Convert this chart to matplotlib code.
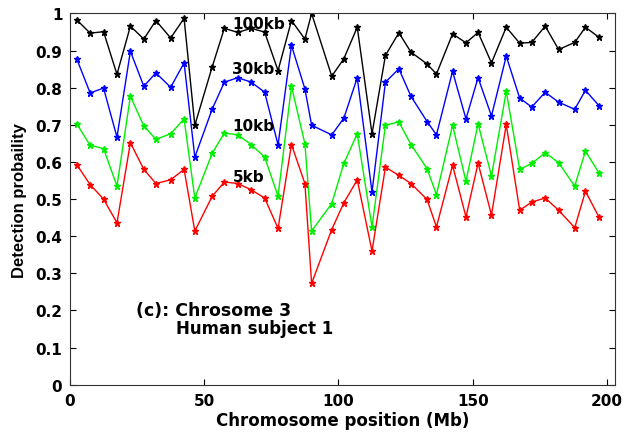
import matplotlib.pyplot as plt
import numpy as np

# chromosome positions (Mb) of the sampled windows
pos = [2.5, 7.5, 12.5, 17.5, 22.5, 27.5, 32, 37.5, 42.5, 46.5,
       53, 57.5, 62.5, 67.5, 72.5, 77.5, 82.5, 87.5, 90, 97.5, 102,
       107, 112.5, 117.5, 122.5, 127, 133, 136.5, 142.5, 147.5, 152,
       157, 162.5, 167.5, 172, 177, 182, 188, 192, 197]

# detection probability per segment size
p100kb = [0.983, 0.947, 0.951, 0.836, 0.966, 0.931, 0.981, 0.934, 0.987, 0.699,
          0.857, 0.960, 0.949, 0.960, 0.950, 0.846, 0.981, 0.931, 1.000, 0.831, 0.878,
          0.963, 0.676, 0.887, 0.948, 0.896, 0.864, 0.837, 0.945, 0.921, 0.949,
          0.867, 0.963, 0.920, 0.922, 0.966, 0.903, 0.922, 0.963, 0.936]
p30kb = [0.878, 0.786, 0.799, 0.667, 0.898, 0.804, 0.840, 0.801, 0.867, 0.613,
         0.743, 0.815, 0.827, 0.815, 0.788, 0.646, 0.914, 0.797, 0.699, 0.673, 0.718,
         0.827, 0.519, 0.815, 0.851, 0.777, 0.709, 0.673, 0.844, 0.716, 0.827,
         0.724, 0.885, 0.772, 0.748, 0.788, 0.761, 0.742, 0.793, 0.752]
p10kb = [0.703, 0.645, 0.636, 0.535, 0.777, 0.697, 0.661, 0.676, 0.716, 0.503,
         0.624, 0.678, 0.673, 0.647, 0.613, 0.508, 0.804, 0.649, 0.414, 0.488, 0.596,
         0.676, 0.425, 0.699, 0.708, 0.647, 0.582, 0.512, 0.699, 0.548, 0.703,
         0.562, 0.790, 0.580, 0.596, 0.625, 0.598, 0.535, 0.629, 0.571]
p5kb = [0.593, 0.539, 0.500, 0.436, 0.652, 0.580, 0.542, 0.552, 0.580, 0.414,
        0.508, 0.546, 0.542, 0.525, 0.503, 0.421, 0.647, 0.542, 0.273, 0.418, 0.490,
        0.552, 0.360, 0.586, 0.564, 0.542, 0.499, 0.425, 0.591, 0.452, 0.597,
        0.457, 0.701, 0.470, 0.492, 0.503, 0.470, 0.423, 0.521, 0.452]

series = [("100kb", p100kb, "k"), ("30kb", p30kb, "#0000ff"),
          ("10kb", p10kb, "#00ee00"), ("5kb", p5kb, "#ff0000")]
# where the in-plot size labels sit (data coords)
label_y = {"100kb": 0.974, "30kb": 0.851, "10kb": 0.698, "5kb": 0.561}

plt.rcParams["font.family"] = ["DejaVu Sans"]
plt.rcParams["font.weight"] = "bold"

fig = plt.figure(figsize=(6.26, 4.35), dpi=100)
ax = fig.add_axes([0.1118, 0.1133, 0.8706, 0.8534])

for name, vals, col in series:
    ax.plot(pos, vals, color=col, lw=1.0, marker="*", ms=4.5, mec=col, mfc=col)
    ax.text(60.5, label_y[name], name, fontsize=11, fontweight="bold",
            va="center", ha="left", color="k")

ax.text(24.5, 0.201, "(c): Chrosome 3", fontsize=12.5, fontweight="bold", va="center")
ax.text(39.4, 0.154, "Human subject 1", fontsize=12, fontweight="bold", va="center")

ax.set_xlim(0, 203)
ax.set_ylim(0, 1)
ax.set_xticks([0, 50, 100, 150, 200])
ax.set_yticks(np.arange(0, 1.01, 0.1))
ax.set_yticklabels(["0", "0.1", "0.2", "0.3", "0.4", "0.5", "0.6", "0.7", "0.8", "0.9", "1"])
ax.tick_params(direction="in", top=True, right=True, length=4, width=0.8,
               labelsize=11)
ax.tick_params(axis="x", pad=6)
ax.tick_params(axis="y", pad=5.5)
for lab in ax.get_xticklabels() + ax.get_yticklabels():
    lab.set_fontweight("bold")
for sp in ax.spines.values():
    sp.set_linewidth(0.8)
    sp.set_color("#333333")

ax.set_xlabel("Chromosome position (Mb)", fontsize=12, fontweight="bold", labelpad=2)
ax.set_ylabel("Detection probaility", fontsize=12, fontweight="bold",
              family="Liberation Sans", labelpad=6)

fig.savefig("out.png", dpi=100)
